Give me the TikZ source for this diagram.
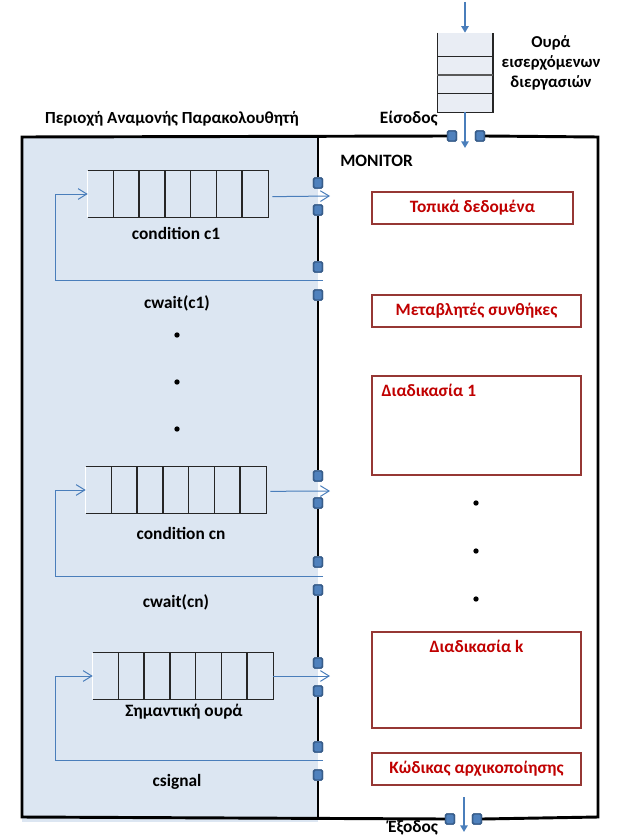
\documentclass[tikz,border=0pt]{standalone}
\usepackage{fontspec}
\setmainfont{Carlito}
\usetikzlibrary{arrows.meta}

\definecolor{waitblue}{RGB}{220,230,242}
\definecolor{inqfill}{RGB}{233,237,244}
\definecolor{flowblue}{RGB}{74,126,187}
\definecolor{portedge}{RGB}{56,93,138}
\definecolor{portfill}{RGB}{79,129,189}
\definecolor{partred}{RGB}{150,55,52}
\definecolor{textred}{RGB}{192,0,0}

\begin{document}
\begin{tikzpicture}[x=0.75pt,y=0.75pt,yscale=-1,xscale=1,
  port/.style={draw=portedge,fill=portfill,line width=1.1pt,rounded corners=1pt,minimum width=6.5pt,minimum height=7.5pt,inner sep=0pt},
  flow/.style={draw=flowblue,line width=0.75pt},
  flowtip/.style={flow,-{Straight Barb[length=6.5pt,width=8pt]}},
  feed/.style={draw=flowblue,line width=1.5pt,-{Triangle[length=5pt,width=5.5pt]}},
  wall/.style={line width=2.2pt},
  qline/.style={line width=1.1pt,draw=black!85},
  queue/.style={minimum width=135pt,minimum height=34.5pt,inner sep=0pt},
  lbl/.style={font=\bfseries\fontsize{13}{15}\selectfont,inner sep=0pt},
  part/.style={draw=partred,line width=2pt,minimum width=156.75pt,inner sep=0pt},
  parttext/.style={text=textred,font=\bfseries\fontsize{13}{15}\selectfont,inner sep=0pt},
  dot/.style={circle,fill=black,inner sep=0pt,minimum size=4pt}
]
\useasboundingbox (0,0) rectangle (627,838);

%waiting area
\fill[waitblue] (22,137) rectangle (318,822);

%corners of the monitor
\coordinate (nw) at (22,137);
\coordinate (ne) at (598,137);
\coordinate (sw) at (22,817);
\coordinate (se) at (598,817);
\coordinate (wtop) at (318,137);
\coordinate (wbot) at (318,817);

%ports
\node[port] (in1) at (452,136) {};
\node[port] (in2) at (480,136) {};
\node[port] (out1) at (450,819) {};
\node[port] (out2) at (477,819) {};
\node[port] (pa1) at (318,183) {};
\node[port] (pa2) at (318,210) {};
\node[port] (pb1) at (318,267) {};
\node[port] (pb2) at (318,295) {};
\node[port] (pc1) at (318,476) {};
\node[port] (pc2) at (318,503) {};
\node[port] (pd1) at (318,562) {};
\node[port] (pd2) at (318,590) {};
\node[port] (pe1) at (318,663) {};
\node[port] (pe2) at (318,691) {};
\node[port] (pf1) at (318,747) {};
\node[port] (pf2) at (318,775) {};

%walls
\draw[wall] (in1.west) -- (nw) -- (sw) -- (out1.west);
\draw[wall] (in2.east) -- (ne) -- (se) -- (out2.east);
\draw[wall] (wtop) -- (pa1.north);
\draw[wall] (pa2.south) -- (pb1.north);
\draw[wall] (pb2.south) -- (pc1.north);
\draw[wall] (pc2.south) -- (pd1.north);
\draw[wall] (pd2.south) -- (pe1.north);
\draw[wall] (pe2.south) -- (pf1.north);
\draw[wall] (pf2.south) -- (wbot);
\foreach \p in {in1,in2,out1,out2,pa1,pa2,pb1,pb2,pc1,pc2,pd1,pd2,pe1,pe2,pf1,pf2}
  \node[port] at (\p) {};

%incoming queue
\node[fill=inqfill,minimum width=41.25pt,minimum height=59.25pt,inner sep=0pt] (inq) at (465,72.5) {};
\draw[qline] (inq.north west) -- (inq.south west) -- (inq.south east) -- (inq.north east);
\draw[qline] ([yshift=18pt]inq.north west) -- ([yshift=18pt]inq.north east);
\draw[qline,draw=black!65,line width=1.6pt] ([yshift=31.5pt]inq.north west) -- ([yshift=31.5pt]inq.north east);
\draw[qline] ([yshift=45.75pt]inq.north west) -- ([yshift=45.75pt]inq.north east);
\coordinate (feedtop) at (465,2);
\coordinate (feedin) at (465,148);
\draw[feed] (feedtop) -- (inq.north);
\draw[feed] (inq.south) -- (feedin);

% Text Node
\node[lbl,align=center,font=\bfseries\fontsize{12.5}{15}\selectfont] (inqlbl) at (551,63) {Ουρά\\εισερχόμενων\\διεργασιών};
\node[lbl,anchor=east] (entry) at (438,119) {Είσοδος};
\node[lbl] (exitlbl) at (413,828) {Έξοδος};
\node[lbl,font=\bfseries\fontsize{12.7}{15}\selectfont] (area) at (172,119) {Περιοχή Αναμονής Παρακολουθητή};
\node[lbl,anchor=west] (monitor) at (340,161) {MONITOR};

%exit
\coordinate (exitfrom) at (464,797);
\coordinate (exitto) at (464,832);
\draw[feed] (exitfrom) -- (exitto);

%condition queues
\node[queue] (q1) at (178,194) {};
\node[queue] (qn) at (176,490) {};
\node[queue] (qs) at (183,676) {};
\foreach \q in {q1,qn,qs}{
  \draw[white,line width=0.75pt] (\q.north west) -- (\q.south west);
  \draw[qline] (\q.north west) -- (\q.north east) -- (\q.south east) -- (\q.south west);
  \foreach \i in {1,...,6}
    \draw[qline] ([xshift=\i*19.2857pt]\q.north west) -- ([xshift=\i*19.2857pt]\q.south west);
}

% Text Node
\node[lbl] (q1lbl) at (176,233) {condition c1};
\node[lbl] (q1wait) at (177,303) {cwait(c1)};
\node[lbl] (qnlbl) at (181,533) {condition cn};
\node[lbl] (qnwait) at (176,602) {cwait(cn)};
\node[lbl] (qslbl) at (184,712) {Σημαντική ουρά};
\node[lbl] (qssig) at (177,782) {csignal};

%flows
\coordinate (q1exit) at (330,196);
\coordinate (q1back) at (323,280);
\coordinate (q1turn) at (55,280);
\draw[flowtip] ([xshift=3pt,yshift=2pt]q1.east) -- (q1exit);
\draw[flowtip] (q1back) -- (q1turn) |- (q1.west);

\coordinate (qnexit) at (330,491);
\coordinate (qnback) at (323,576);
\coordinate (qnturn) at (55,576);
\draw[flowtip] ([xshift=3pt,yshift=1pt]qn.east) -- (qnexit);
\draw[flowtip] (qnback) -- (qnturn) |- (qn.west);

\coordinate (qsexit) at (330,676);
\coordinate (qsback) at (323,760);
\coordinate (qsturn) at (55,760);
\draw[flowtip] (qs.east) -- (qsexit);
\draw[flowtip] (qsback) -- (qsturn) |- (qs.west);

%dots
\foreach \y in {335,382,429}
  \node[dot] at (177,\y) {};
\foreach \y in {503,551,599}
  \node[dot] at (476,\y) {};

%monitor parts
\node[part,parttext,minimum width=150.75pt,minimum height=24pt] (local) at (472.5,208) {Τοπικά δεδομένα};
\node[part,parttext,minimum height=24pt] (condvars) at (476.5,311) {Μεταβλητές συνθήκες};
\node[part,minimum height=74.25pt] (proc1) at (476.5,425.5) {};
\node[parttext,anchor=north west] (proc1lbl) at ([xshift=8pt,yshift=7pt]proc1.north west) {Διαδικασία 1};
\node[part,minimum height=72pt] (prock) at (476.5,680) {};
\node[parttext,anchor=north] (procklbl) at ([yshift=7pt]prock.north) {Διαδικασία k};
\node[part,parttext,minimum height=24pt] (init) at (476.5,769) {Κώδικας αρχικοποίησης};

\end{tikzpicture}
\end{document}
